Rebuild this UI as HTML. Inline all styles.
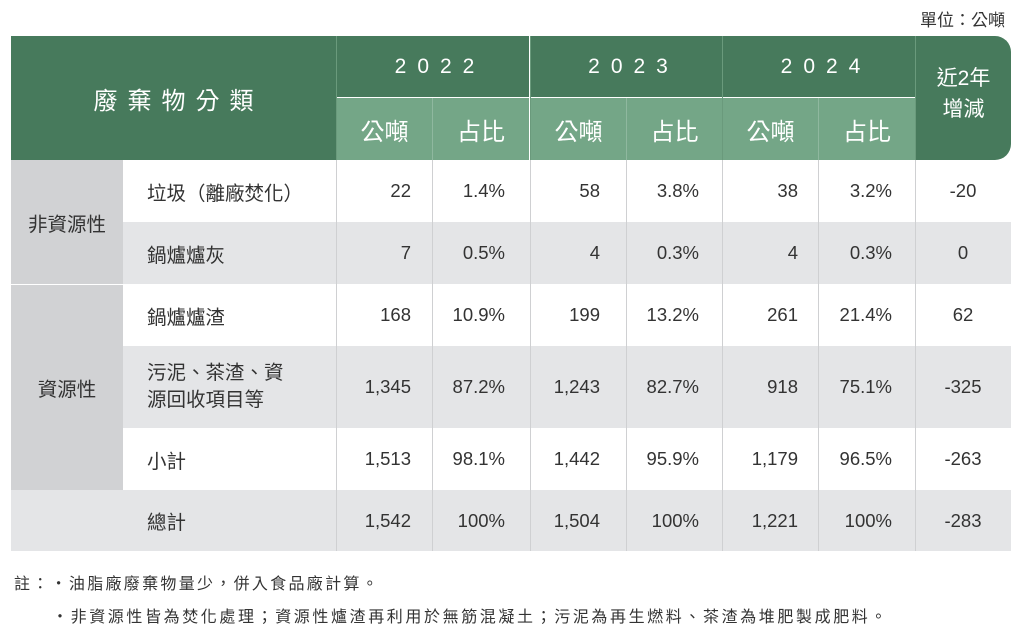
<!DOCTYPE html>
<html><head><meta charset="utf-8"><style>
*{margin:0;padding:0;box-sizing:border-box}
body{width:1024px;height:632px;background:#fff;position:relative;overflow:hidden;font-family:"Liberation Sans","Noto Sans CJK TC",sans-serif;color:#333}
.a{position:absolute}
.c{display:flex;align-items:center;justify-content:center;text-align:center}
.r{display:flex;align-items:center;justify-content:flex-end}
.l{display:flex;align-items:center}
.dk{background:#477a5c;color:#fff}
.lt{background:#74a687;color:#fff}
.t{font-size:18.5px}
.vl{position:absolute;width:1px;background:#cfd0d2}
</style></head><body>
<div class="a" style="right:19px;top:6px;font-size:17px;color:#333">單位：公噸</div>
<div class="a dk c" style="left:11px;top:36px;width:325px;height:124px;font-size:24px;letter-spacing:10px;padding-left:10px">廢棄物分類</div>
<div class="a dk c" style="left:337px;top:36px;width:192px;height:61px;font-size:21px;letter-spacing:11px;padding-left:14px">2022</div>
<div class="a dk c" style="left:531px;top:36px;width:191px;height:61px;font-size:21px;letter-spacing:11px;padding-left:14px">2023</div>
<div class="a dk c" style="left:723px;top:36px;width:192px;height:61px;font-size:21px;letter-spacing:11px;padding-left:14px">2024</div>
<div class="a dk c" style="left:916px;top:36px;width:95px;height:124px;font-size:21px;line-height:31px;border-radius:0 16px 16px 0;padding-bottom:8px">近2年<br>增減</div>
<div class="a lt c" style="left:337px;top:98px;width:95px;height:62px;font-size:24px">公噸</div>
<div class="a lt c" style="left:433px;top:98px;width:96px;height:62px;font-size:24px">占比</div>
<div class="a lt c" style="left:531px;top:98px;width:95px;height:62px;font-size:24px">公噸</div>
<div class="a lt c" style="left:627px;top:98px;width:95px;height:62px;font-size:24px">占比</div>
<div class="a lt c" style="left:723px;top:98px;width:95px;height:62px;font-size:24px">公噸</div>
<div class="a lt c" style="left:819px;top:98px;width:96px;height:62px;font-size:24px">占比</div>
<div class="a" style="left:123px;top:222px;width:888px;height:62px;background:#e4e5e7"></div>
<div class="a" style="left:123px;top:346px;width:888px;height:82px;background:#e4e5e7"></div>
<div class="a" style="left:11px;top:490px;width:1000px;height:61px;background:#e4e5e7"></div>
<div class="a c" style="left:11px;top:160px;width:112px;height:124px;background:#d1d2d4;font-size:19.5px">非資源性</div>
<div class="a c" style="left:11px;top:285px;width:112px;height:205px;background:#d1d2d4;font-size:19.5px">資源性</div>
<div class="vl" style="left:336px;top:36px;height:515px"></div>
<div class="vl" style="left:530px;top:36px;height:515px"></div>
<div class="vl" style="left:722px;top:36px;height:515px"></div>
<div class="vl" style="left:915px;top:36px;height:515px"></div>
<div class="vl" style="left:432px;top:98px;height:453px"></div>
<div class="vl" style="left:626px;top:98px;height:453px"></div>
<div class="vl" style="left:818px;top:98px;height:453px"></div>
<div class="vl" style="left:336px;top:36px;height:124px;background:#6a9a7c"></div>
<div class="vl" style="left:530px;top:36px;height:124px;background:#6a9a7c"></div>
<div class="vl" style="left:722px;top:36px;height:124px;background:#6a9a7c"></div>
<div class="vl" style="left:915px;top:36px;height:124px;background:#6a9a7c"></div>
<div class="vl" style="left:432px;top:98px;height:62px;background:#8fb89f"></div>
<div class="vl" style="left:626px;top:98px;height:62px;background:#8fb89f"></div>
<div class="vl" style="left:818px;top:98px;height:62px;background:#8fb89f"></div>
<div class="a l" style="left:147px;top:160px;height:62px;font-size:19.5px">垃圾（離廠焚化）</div>
<div class="a l" style="left:147px;top:222px;height:62px;font-size:19.5px">鍋爐爐灰</div>
<div class="a l" style="left:147px;top:284px;height:62px;font-size:19.5px">鍋爐爐渣</div>
<div class="a l" style="left:147px;top:346px;height:82px;font-size:19.5px;line-height:27px">污泥、茶渣、資<br>源回收項目等</div>
<div class="a l" style="left:147px;top:428px;height:62px;font-size:19.5px">小計</div>
<div class="a l" style="left:147px;top:490px;height:61px;font-size:19.5px">總計</div>
<div id="d"></div>
<div class="a" style="left:14px;top:570px;font-size:16px;letter-spacing:2.3px">註：・油脂廠廢棄物量少，併入食品廠計算。</div>
<div class="a" style="left:52px;top:603px;font-size:16px;letter-spacing:2.6px">・非資源性皆為焚化處理；資源性爐渣再利用於無筋混凝土；污泥為再生燃料、茶渣為堆肥製成肥料。</div>
<script>
var rows=[[160,62,["22","1.4%","58","3.8%","38","3.2%","-20"]],[222,62,["7","0.5%","4","0.3%","4","0.3%","0"]],[284,62,["168","10.9%","199","13.2%","261","21.4%","62"]],[346,82,["1,345","87.2%","1,243","82.7%","918","75.1%","-325"]],[428,62,["1,513","98.1%","1,442","95.9%","1,179","96.5%","-263"]],[490,61,["1,542","100%","1,504","100%","1,221","100%","-283"]]];
var rights=[411,505,600,699,798,892];var h="";
rows.forEach(function(r){for(var i=0;i<6;i++){h+='<div class="a r t" style="left:'+(rights[i]-100)+'px;width:100px;top:'+r[0]+'px;height:'+r[1]+'px">'+r[2][i]+'</div>';}
h+='<div class="a c t" style="left:915px;width:96px;top:'+r[0]+'px;height:'+r[1]+'px">'+r[2][6]+'</div>';});
document.getElementById("d").innerHTML=h;
</script>
</body></html>
